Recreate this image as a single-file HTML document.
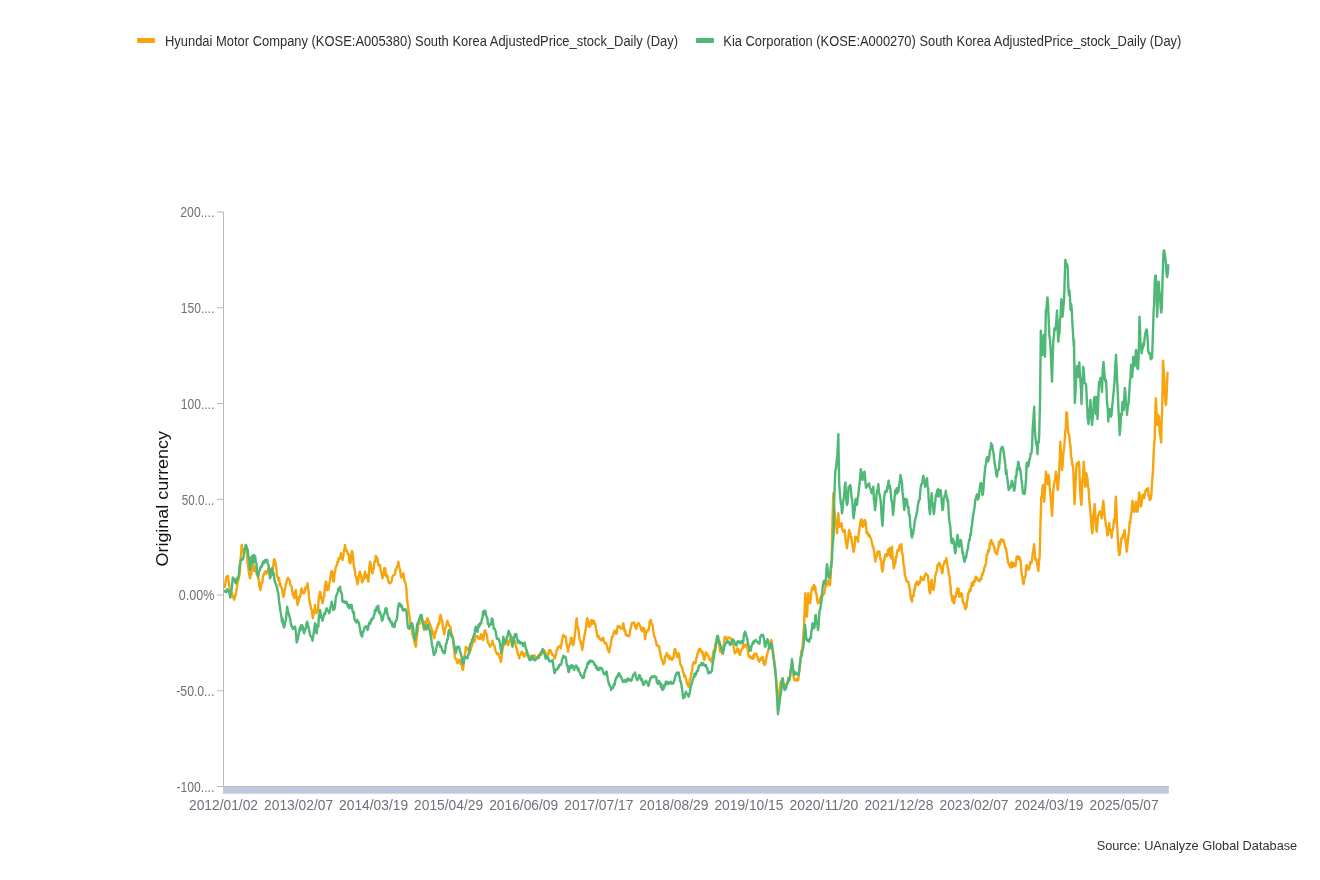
<!DOCTYPE html>
<html lang="en"><head><meta charset="utf-8"><title>Hyundai Motor vs Kia – Adjusted Price</title>
<style>
html,body{margin:0;padding:0;background:#fff;}
body{width:1320px;height:880px;overflow:hidden;font-family:"Liberation Sans",sans-serif;}
svg{display:block;}
text{font-family:"Liberation Sans",sans-serif;}
.lab{font-size:15.5px;fill:#6e7079;}
.leg{font-size:15.5px;fill:#2e2e2e;}
</style></head><body>
<svg width="1320" height="880" viewBox="0 0 1320 880">
<rect width="1320" height="880" fill="#fff"/>

<rect x="137" y="38" width="18" height="5" rx="1" fill="#f7a50e"/>
<text class="leg" x="165" y="45.5" textLength="513" lengthAdjust="spacingAndGlyphs">Hyundai Motor Company (KOSE:A005380) South Korea AdjustedPrice_stock_Daily (Day)</text>
<rect x="696" y="38" width="18" height="5" rx="1" fill="#4fb877"/>
<text class="leg" x="723.3" y="45.5" textLength="458" lengthAdjust="spacingAndGlyphs">Kia Corporation (KOSE:A000270) South Korea AdjustedPrice_stock_Daily (Day)</text>
<text transform="translate(167.5,566.5) rotate(-90)" font-size="16" fill="#111" textLength="135.5" lengthAdjust="spacingAndGlyphs">Original currency</text>
<rect x="223" y="211.5" width="1" height="575" fill="#b6b8c2"/>
<rect x="217" y="211.50" width="6" height="1" fill="#b6b8c2"/>
<text class="lab" x="214.3" y="217.3" text-anchor="end" textLength="34" lengthAdjust="spacingAndGlyphs">200....</text>
<rect x="217" y="307.25" width="6" height="1" fill="#b6b8c2"/>
<text class="lab" x="214.3" y="313.1" text-anchor="end" textLength="33.5" lengthAdjust="spacingAndGlyphs">150....</text>
<rect x="217" y="403.00" width="6" height="1" fill="#b6b8c2"/>
<text class="lab" x="214.3" y="408.8" text-anchor="end" textLength="33.5" lengthAdjust="spacingAndGlyphs">100....</text>
<rect x="217" y="498.75" width="6" height="1" fill="#b6b8c2"/>
<text class="lab" x="214.3" y="504.6" text-anchor="end" textLength="32.5" lengthAdjust="spacingAndGlyphs">50.0...</text>
<rect x="217" y="594.50" width="6" height="1" fill="#b6b8c2"/>
<text class="lab" x="214.3" y="600.3" text-anchor="end" textLength="35.5" lengthAdjust="spacingAndGlyphs">0.00%</text>
<rect x="217" y="690.25" width="6" height="1" fill="#b6b8c2"/>
<text class="lab" x="214.3" y="696.0" text-anchor="end" textLength="38" lengthAdjust="spacingAndGlyphs">-50.0...</text>
<rect x="217" y="786.00" width="6" height="1" fill="#b6b8c2"/>
<text class="lab" x="214.3" y="791.8" text-anchor="end" textLength="37.8" lengthAdjust="spacingAndGlyphs">-100....</text>
<rect x="223" y="786" width="945.8" height="7.7" fill="#bfc8dc"/>
<rect x="223" y="786" width="945.8" height="1" fill="#b6b8c2"/>
<text class="lab" x="223.5" y="809.8" text-anchor="middle" textLength="69" lengthAdjust="spacingAndGlyphs">2012/01/02</text>
<text class="lab" x="298.6" y="809.8" text-anchor="middle" textLength="69" lengthAdjust="spacingAndGlyphs">2013/02/07</text>
<text class="lab" x="373.6" y="809.8" text-anchor="middle" textLength="69" lengthAdjust="spacingAndGlyphs">2014/03/19</text>
<text class="lab" x="448.6" y="809.8" text-anchor="middle" textLength="69" lengthAdjust="spacingAndGlyphs">2015/04/29</text>
<text class="lab" x="523.7" y="809.8" text-anchor="middle" textLength="69" lengthAdjust="spacingAndGlyphs">2016/06/09</text>
<text class="lab" x="598.8" y="809.8" text-anchor="middle" textLength="69" lengthAdjust="spacingAndGlyphs">2017/07/17</text>
<text class="lab" x="673.8" y="809.8" text-anchor="middle" textLength="69" lengthAdjust="spacingAndGlyphs">2018/08/29</text>
<text class="lab" x="748.9" y="809.8" text-anchor="middle" textLength="69" lengthAdjust="spacingAndGlyphs">2019/10/15</text>
<text class="lab" x="823.9" y="809.8" text-anchor="middle" textLength="69" lengthAdjust="spacingAndGlyphs">2020/11/20</text>
<text class="lab" x="898.9" y="809.8" text-anchor="middle" textLength="69" lengthAdjust="spacingAndGlyphs">2021/12/28</text>
<text class="lab" x="974.0" y="809.8" text-anchor="middle" textLength="69" lengthAdjust="spacingAndGlyphs">2023/02/07</text>
<text class="lab" x="1049.0" y="809.8" text-anchor="middle" textLength="69" lengthAdjust="spacingAndGlyphs">2024/03/19</text>
<text class="lab" x="1124.1" y="809.8" text-anchor="middle" textLength="69" lengthAdjust="spacingAndGlyphs">2025/05/07</text>
<path d="M224.17 586.7 L224.72 587.2 L225.28 583.7 L225.83 579.8 L226.39 577.0 L226.94 577.4 L227.50 575.8 L228.06 576.3 L228.61 581.6 L229.17 584.8 L229.72 588.6 L230.28 589.2 L230.83 593.3 L231.47 594.0 L232.11 592.6 L232.75 596.4 L233.39 597.4 L234.03 599.6 L234.67 598.3 L235.23 595.2 L235.80 594.8 L236.37 590.1 L236.93 587.9 L237.50 583.3 L238.12 580.3 L238.75 578.9 L239.38 574.9 L240.00 570.0 L240.56 559.4 L241.11 554.0 L241.67 545.0 L242.22 548.9 L242.78 550.2 L243.33 551.7 L243.96 550.2 L244.58 548.9 L245.21 548.1 L245.83 545.0 L246.39 549.3 L246.94 554.8 L247.50 561.7 L248.12 566.2 L248.75 571.5 L249.38 575.5 L250.00 578.3 L250.56 573.7 L251.11 575.4 L251.67 571.0 L252.22 570.9 L252.78 565.3 L253.33 565.0 L253.93 568.2 L254.52 571.1 L255.12 567.0 L255.71 567.5 L256.31 571.6 L256.90 574.6 L257.50 575.0 L258.10 578.6 L258.70 579.0 L259.30 584.9 L259.90 588.9 L260.50 590.0 L261.11 585.1 L261.72 582.5 L262.33 582.9 L262.94 575.5 L263.56 575.6 L264.17 573.3 L264.76 572.2 L265.36 571.3 L265.95 571.1 L266.55 573.7 L267.14 571.0 L267.74 571.2 L268.33 568.3 L268.96 569.5 L269.58 573.2 L270.21 569.5 L270.83 576.7 L271.47 574.0 L272.11 568.5 L272.75 569.0 L273.39 564.4 L274.03 559.2 L274.67 560.0 L275.23 561.5 L275.80 565.2 L276.37 569.4 L276.93 575.3 L277.50 576.7 L278.06 578.4 L278.61 580.8 L279.17 578.0 L279.72 585.3 L280.28 583.6 L280.83 586.7 L281.46 587.3 L282.08 589.4 L282.71 593.2 L283.33 596.7 L283.93 595.4 L284.52 590.6 L285.12 588.1 L285.71 583.7 L286.31 583.2 L286.90 580.1 L287.50 578.3 L288.10 577.8 L288.69 579.7 L289.29 580.0 L289.88 581.3 L290.48 585.4 L291.07 585.8 L291.67 586.7 L292.29 591.8 L292.92 595.2 L293.54 593.5 L294.17 598.3 L294.72 592.2 L295.28 592.1 L295.83 590.0 L296.39 595.2 L296.94 599.3 L297.50 605.0 L298.10 602.7 L298.69 600.3 L299.29 596.4 L299.88 597.4 L300.48 595.0 L301.07 590.6 L301.67 588.3 L302.29 590.8 L302.92 593.1 L303.54 593.0 L304.17 593.3 L304.72 591.5 L305.28 587.8 L305.83 587.0 L306.39 588.5 L306.94 586.6 L307.50 583.3 L308.12 587.4 L308.75 593.8 L309.38 601.1 L310.00 603.3 L310.57 605.7 L311.13 609.1 L311.70 609.6 L312.27 613.4 L312.83 618.3 L313.38 615.0 L313.92 613.4 L314.46 610.6 L315.00 605.0 L315.56 610.5 L316.11 610.0 L316.67 613.3 L317.22 610.2 L317.78 611.2 L318.33 604.0 L318.89 596.9 L319.44 595.4 L320.00 591.7 L320.62 593.2 L321.25 598.8 L321.88 599.6 L322.50 603.3 L323.06 601.1 L323.61 597.0 L324.17 596.6 L324.72 588.7 L325.28 584.2 L325.83 581.7 L326.46 582.7 L327.08 590.2 L327.71 588.4 L328.33 590.0 L328.93 586.1 L329.53 582.9 L330.13 579.5 L330.73 575.1 L331.33 571.7 L332.00 570.9 L332.67 576.5 L333.33 581.7 L333.93 581.3 L334.52 572.6 L335.12 571.8 L335.71 567.6 L336.31 565.7 L336.90 565.3 L337.50 561.7 L338.06 562.4 L338.61 558.1 L339.17 558.0 L339.72 558.8 L340.28 556.5 L340.83 553.3 L341.39 558.0 L341.94 556.1 L342.50 560.0 L343.12 557.0 L343.75 552.4 L344.38 549.3 L345.00 545.0 L345.62 550.9 L346.25 549.5 L346.88 550.6 L347.50 553.3 L348.12 554.3 L348.75 554.2 L349.38 561.9 L350.00 563.3 L350.62 562.7 L351.25 555.9 L351.88 551.0 L352.50 552.5 L353.12 557.5 L353.75 565.7 L354.38 568.3 L355.00 571.7 L355.62 576.0 L356.25 577.3 L356.88 581.1 L357.50 584.2 L358.12 581.6 L358.75 576.3 L359.38 573.8 L360.00 571.7 L360.62 576.0 L361.25 574.8 L361.88 582.3 L362.50 581.7 L363.12 580.6 L363.75 578.9 L364.38 574.9 L365.00 571.7 L365.56 576.2 L366.11 577.5 L366.67 578.0 L367.22 574.7 L367.78 578.5 L368.33 581.7 L368.89 575.7 L369.44 566.4 L370.00 561.7 L370.62 563.8 L371.25 568.9 L371.88 571.3 L372.50 573.3 L373.06 569.4 L373.61 569.4 L374.17 563.8 L374.72 560.9 L375.28 561.5 L375.83 555.8 L376.43 557.0 L377.02 558.0 L377.62 558.8 L378.21 564.4 L378.81 565.6 L379.40 565.1 L380.00 565.0 L380.62 570.4 L381.25 571.9 L381.88 575.8 L382.50 578.3 L383.06 575.3 L383.61 575.2 L384.17 568.3 L384.75 572.0 L385.33 568.5 L385.92 576.0 L386.50 576.4 L387.08 575.2 L387.67 577.2 L388.25 581.0 L388.83 582.5 L389.42 583.2 L390.00 583.3 L390.62 582.2 L391.25 582.3 L391.88 579.7 L392.50 576.4 L393.12 575.5 L393.75 575.4 L394.38 575.0 L395.00 573.3 L395.56 569.8 L396.11 570.1 L396.67 567.4 L397.22 566.2 L397.78 565.8 L398.33 561.7 L398.96 565.5 L399.58 568.0 L400.21 570.3 L400.83 576.7 L401.46 577.5 L402.08 574.8 L402.71 575.4 L403.33 573.3 L403.96 577.2 L404.58 581.6 L405.21 582.2 L405.83 585.0 L406.39 588.6 L406.94 598.6 L407.50 603.3 L408.12 606.9 L408.75 613.1 L409.38 614.8 L410.00 620.0 L410.62 625.1 L411.25 626.8 L411.88 630.3 L412.50 635.0 L413.06 635.7 L413.61 637.6 L414.17 640.7 L414.72 643.1 L415.28 644.8 L415.83 646.7 L416.46 640.4 L417.08 634.7 L417.71 630.9 L418.33 623.3 L418.89 621.8 L419.44 623.9 L420.00 616.9 L420.56 618.6 L421.11 618.6 L421.67 616.7 L422.29 620.4 L422.92 622.7 L423.54 627.4 L424.17 630.0 L424.72 628.6 L425.28 621.4 L425.83 624.1 L426.39 620.9 L426.94 621.3 L427.50 618.3 L428.06 620.8 L428.61 620.6 L429.17 623.2 L429.72 623.4 L430.28 625.5 L430.83 626.7 L431.39 627.5 L431.94 633.6 L432.50 634.2 L433.06 631.4 L433.61 637.1 L434.17 638.3 L434.72 635.9 L435.28 633.4 L435.83 631.5 L436.39 630.8 L436.94 628.2 L437.50 626.7 L438.06 624.4 L438.61 623.3 L439.17 624.0 L439.72 618.6 L440.28 615.4 L440.83 615.0 L441.39 618.9 L441.94 620.0 L442.50 623.1 L443.06 628.5 L443.61 631.0 L444.17 634.2 L444.72 631.2 L445.28 628.2 L445.83 626.7 L446.39 624.9 L446.94 622.6 L447.50 620.8 L448.12 623.2 L448.75 624.9 L449.38 626.1 L450.00 626.7 L450.62 627.4 L451.25 632.7 L451.88 634.3 L452.50 636.7 L453.12 640.6 L453.75 646.9 L454.38 652.0 L455.00 658.3 L455.62 658.6 L456.25 658.6 L456.88 661.9 L457.50 663.3 L458.12 661.9 L458.75 661.7 L459.38 659.6 L460.00 660.0 L460.60 664.1 L461.20 662.7 L461.80 665.5 L462.40 669.4 L463.00 670.0 L463.57 665.5 L464.13 657.8 L464.70 655.3 L465.27 652.3 L465.83 646.7 L466.39 648.7 L466.94 648.2 L467.50 648.9 L468.06 648.3 L468.61 650.8 L469.17 653.3 L469.72 651.7 L470.28 648.0 L470.83 650.0 L471.39 644.4 L471.94 646.2 L472.50 643.3 L473.06 642.6 L473.61 642.2 L474.17 640.6 L474.72 641.0 L475.28 638.0 L475.83 636.7 L476.46 636.2 L477.08 635.8 L477.71 636.6 L478.33 638.3 L478.96 638.6 L479.58 638.7 L480.21 638.9 L480.83 634.2 L481.38 636.6 L481.92 635.1 L482.46 638.0 L483.00 640.0 L483.56 638.3 L484.11 633.9 L484.67 630.8 L485.23 630.4 L485.80 632.7 L486.37 633.9 L486.93 635.2 L487.50 640.0 L488.12 643.0 L488.75 643.3 L489.38 645.5 L490.00 646.7 L490.62 645.6 L491.25 645.0 L491.88 644.5 L492.50 640.8 L493.06 643.5 L493.61 644.4 L494.17 645.0 L494.72 647.0 L495.28 650.4 L495.83 651.7 L496.46 652.2 L497.08 654.2 L497.71 653.8 L498.33 653.3 L498.96 655.2 L499.58 657.6 L500.21 658.4 L500.83 661.7 L501.46 657.7 L502.08 652.5 L502.71 648.7 L503.33 645.0 L503.96 643.7 L504.58 644.6 L505.21 641.5 L505.83 640.0 L506.46 642.2 L507.08 639.9 L507.71 645.1 L508.33 645.0 L508.89 641.4 L509.44 641.9 L510.00 641.0 L510.56 637.4 L511.11 637.1 L511.67 636.7 L512.29 639.9 L512.92 641.4 L513.54 642.2 L514.17 641.7 L514.79 640.9 L515.42 643.3 L516.04 646.7 L516.67 648.3 L517.29 651.3 L517.92 654.7 L518.54 655.0 L519.17 658.3 L519.79 655.4 L520.42 654.8 L521.04 653.3 L521.67 651.7 L522.29 651.6 L522.92 654.5 L523.54 655.0 L524.17 656.7 L524.79 656.4 L525.42 653.0 L526.04 652.7 L526.67 653.3 L527.22 653.6 L527.78 655.6 L528.33 657.1 L528.89 656.9 L529.44 655.8 L530.00 658.3 L530.56 658.4 L531.11 656.4 L531.67 658.8 L532.22 657.3 L532.78 657.5 L533.33 656.7 L533.89 656.7 L534.44 655.1 L535.00 656.6 L535.56 658.5 L536.11 657.2 L536.67 658.3 L537.22 657.6 L537.78 657.3 L538.33 655.5 L538.89 656.9 L539.44 654.4 L540.00 655.0 L540.56 652.8 L541.11 651.9 L541.67 654.3 L542.22 650.5 L542.78 649.4 L543.33 650.0 L543.89 650.1 L544.44 650.4 L545.00 652.0 L545.56 653.2 L546.11 654.4 L546.67 656.7 L547.22 657.0 L547.78 653.8 L548.33 654.7 L548.89 650.4 L549.44 651.5 L550.00 650.0 L550.62 650.4 L551.25 653.3 L551.88 653.2 L552.50 655.0 L553.12 654.8 L553.75 656.3 L554.38 658.1 L555.00 658.3 L555.56 655.9 L556.11 654.4 L556.67 650.0 L557.22 650.0 L557.78 647.7 L558.33 646.7 L558.96 647.0 L559.58 647.2 L560.21 645.7 L560.83 648.3 L561.46 644.4 L562.08 640.1 L562.71 637.4 L563.33 635.0 L563.96 635.4 L564.58 636.9 L565.21 637.1 L565.83 636.7 L566.38 642.6 L566.92 645.9 L567.46 646.9 L568.00 651.7 L568.57 647.1 L569.13 645.8 L569.70 644.7 L570.27 642.7 L570.83 638.3 L571.46 637.8 L572.08 641.0 L572.71 645.1 L573.33 645.0 L573.89 642.1 L574.44 637.8 L575.00 634.5 L575.56 628.7 L576.11 622.1 L576.67 618.3 L577.29 626.8 L577.92 627.3 L578.54 629.4 L579.17 636.7 L579.77 640.2 L580.37 641.2 L580.97 643.6 L581.57 645.4 L582.17 650.0 L582.73 646.9 L583.30 642.4 L583.87 639.2 L584.43 636.0 L585.00 633.3 L585.54 629.5 L586.08 628.2 L586.62 621.1 L587.17 618.3 L587.83 620.1 L588.50 622.8 L589.17 626.7 L589.79 626.5 L590.42 625.7 L591.04 620.4 L591.67 620.0 L592.22 620.9 L592.78 623.8 L593.33 621.8 L593.89 620.8 L594.44 623.6 L595.00 623.3 L595.62 626.2 L596.25 629.9 L596.88 633.5 L597.50 636.7 L598.06 635.9 L598.61 636.0 L599.17 638.1 L599.72 639.3 L600.28 638.9 L600.83 640.0 L601.46 640.6 L602.08 638.9 L602.71 637.7 L603.33 638.3 L603.89 641.0 L604.44 642.5 L605.00 643.3 L605.56 643.9 L606.11 642.9 L606.67 645.0 L607.29 647.3 L607.92 649.8 L608.54 651.4 L609.17 652.5 L609.72 649.1 L610.28 646.6 L610.83 644.2 L611.39 640.5 L611.94 637.1 L612.50 636.7 L613.06 635.1 L613.61 633.3 L614.17 631.7 L614.79 630.6 L615.42 631.4 L616.04 633.8 L616.67 633.3 L617.22 628.9 L617.78 626.1 L618.33 626.7 L618.89 627.2 L619.44 626.3 L620.00 627.6 L620.56 627.6 L621.11 628.9 L621.67 628.3 L622.22 628.5 L622.78 625.9 L623.33 623.3 L623.96 627.6 L624.58 631.4 L625.21 629.8 L625.83 635.0 L626.39 635.2 L626.94 635.6 L627.50 635.1 L628.06 635.4 L628.61 636.2 L629.17 635.8 L629.72 633.9 L630.28 629.9 L630.83 627.2 L631.39 625.9 L631.94 623.0 L632.50 623.3 L633.06 623.0 L633.61 622.5 L634.17 622.6 L634.72 625.3 L635.28 626.6 L635.83 628.3 L636.46 628.8 L637.08 624.8 L637.71 623.7 L638.33 623.3 L638.89 623.3 L639.44 624.7 L640.00 626.5 L640.56 626.7 L641.11 629.8 L641.67 630.0 L642.29 631.2 L642.92 627.8 L643.54 629.5 L644.17 628.3 L645.00 639.2 L645.62 636.1 L646.25 631.7 L646.88 631.9 L647.50 630.0 L648.06 630.4 L648.61 630.2 L649.17 627.6 L649.72 621.1 L650.28 621.9 L650.83 620.0 L651.46 623.6 L652.08 624.2 L652.71 625.7 L653.33 631.7 L653.89 635.6 L654.44 637.0 L655.00 637.7 L655.56 640.7 L656.11 641.4 L656.67 645.0 L657.29 645.8 L657.92 645.7 L658.54 645.7 L659.17 646.7 L659.72 650.2 L660.28 652.8 L660.83 656.7 L661.46 659.0 L662.08 660.4 L662.71 661.3 L663.33 664.2 L663.89 663.8 L664.44 661.8 L665.00 656.3 L665.56 656.1 L666.11 656.1 L666.67 653.3 L667.22 655.7 L667.78 654.9 L668.33 657.4 L668.89 658.1 L669.44 655.8 L670.00 659.2 L670.56 658.7 L671.11 658.0 L671.67 657.7 L672.22 659.9 L672.78 658.6 L673.33 658.3 L674.00 653.5 L674.67 648.9 L675.33 649.2 L675.89 652.1 L676.44 653.2 L677.00 656.7 L677.56 656.8 L678.11 654.0 L678.67 653.3 L679.21 655.3 L679.75 660.5 L680.29 664.4 L680.83 665.0 L681.40 666.3 L681.97 667.3 L682.53 669.5 L683.10 672.5 L683.67 673.3 L684.33 676.5 L685.00 675.3 L685.67 678.2 L686.33 680.0 L686.92 683.9 L687.50 683.2 L688.08 685.9 L688.67 686.7 L689.21 685.9 L689.75 679.1 L690.29 679.2 L690.83 676.7 L691.46 672.4 L692.08 671.1 L692.71 664.4 L693.33 663.3 L693.96 662.1 L694.58 663.5 L695.21 663.3 L695.83 661.7 L696.39 657.7 L696.94 657.6 L697.50 653.2 L698.06 653.0 L698.61 650.2 L699.17 649.2 L699.72 649.2 L700.28 648.7 L700.83 651.2 L701.39 652.3 L701.94 651.3 L702.50 651.7 L703.06 655.2 L703.61 656.6 L704.17 660.0 L704.71 658.5 L705.25 655.8 L705.79 652.6 L706.33 652.5 L706.90 654.3 L707.47 655.2 L708.03 655.0 L708.60 656.8 L709.17 658.3 L709.71 659.9 L710.25 659.0 L710.79 659.6 L711.33 661.7 L712.00 658.6 L712.67 656.3 L713.33 651.7 L713.96 650.2 L714.58 649.6 L715.21 645.8 L715.83 641.7 L716.50 641.5 L717.17 636.5 L717.83 636.7 L718.38 643.1 L718.92 642.1 L719.46 646.2 L720.00 651.7 L720.62 651.6 L721.25 652.0 L721.88 652.0 L722.50 654.2 L723.12 649.3 L723.75 644.9 L724.38 638.5 L725.00 636.7 L725.62 637.2 L726.25 638.3 L726.88 639.2 L727.50 638.3 L728.12 637.5 L728.75 637.4 L729.38 638.2 L730.00 638.3 L730.62 637.9 L731.25 639.4 L731.88 640.6 L732.50 641.7 L733.12 643.5 L733.75 647.8 L734.38 651.5 L735.00 653.3 L735.62 652.0 L736.25 651.7 L736.88 650.4 L737.50 648.3 L738.12 648.9 L738.75 653.3 L739.38 653.3 L740.00 655.0 L740.62 652.4 L741.25 649.7 L741.88 649.5 L742.50 648.3 L743.07 645.2 L743.63 644.7 L744.20 647.2 L744.77 645.4 L745.33 645.0 L745.88 644.5 L746.42 646.3 L746.96 644.4 L747.50 648.3 L748.06 651.9 L748.61 655.8 L749.17 656.7 L749.79 657.4 L750.42 656.3 L751.04 657.3 L751.67 658.3 L752.22 658.7 L752.78 658.8 L753.33 655.2 L753.89 658.0 L754.44 653.8 L755.00 654.2 L755.62 653.9 L756.25 653.4 L756.88 656.2 L757.50 656.7 L758.06 659.8 L758.61 659.0 L759.17 661.7 L759.72 660.3 L760.28 660.1 L760.83 658.3 L761.39 659.4 L761.94 658.2 L762.50 656.7 L763.04 658.6 L763.58 663.6 L764.12 662.4 L764.67 665.0 L765.33 663.2 L766.00 659.6 L766.67 656.7 L767.29 654.1 L767.92 651.8 L768.54 649.1 L769.17 648.3 L769.71 644.8 L770.25 643.5 L770.79 640.5 L771.33 640.0 L772.00 644.3 L772.67 649.5 L773.33 653.3 L774.00 660.0 L774.67 664.4 L775.33 670.0 L776.00 678.6 L776.67 686.7 L777.33 698.3 L778.00 710.0 L778.58 701.8 L779.17 691.7 L779.72 689.1 L780.28 683.9 L780.83 681.7 L781.39 680.8 L781.94 680.0 L782.50 678.3 L783.04 682.8 L783.58 684.3 L784.12 685.9 L784.67 688.3 L785.33 686.0 L786.00 684.6 L786.67 683.3 L787.22 682.1 L787.78 682.1 L788.33 677.8 L788.89 678.9 L789.44 678.8 L790.00 676.7 L790.67 671.7 L791.33 667.2 L792.00 663.3 L792.54 668.4 L793.08 671.4 L793.62 677.1 L794.17 680.0 L794.76 679.8 L795.36 680.3 L795.95 679.6 L796.55 679.0 L797.14 680.7 L797.74 680.4 L798.33 680.0 L798.96 672.4 L799.58 669.4 L800.21 663.6 L800.83 656.7 L801.39 650.8 L801.94 650.8 L802.50 648.3 L803.06 639.5 L803.61 631.7 L804.17 623.3 L804.75 607.8 L805.33 593.3 L806.00 607.8 L806.67 616.7 L807.22 613.2 L807.78 599.5 L808.33 593.3 L808.89 599.0 L809.44 597.4 L810.00 603.3 L810.67 599.2 L811.33 592.3 L812.00 588.3 L812.54 589.3 L813.08 586.2 L813.62 586.3 L814.17 585.0 L814.72 590.3 L815.28 586.8 L815.83 593.3 L816.38 593.1 L816.92 597.3 L817.46 601.7 L818.00 603.3 L818.67 601.4 L819.33 602.8 L820.00 598.3 L820.62 598.7 L821.25 595.4 L821.88 597.1 L822.50 595.0 L823.12 595.1 L823.75 593.7 L824.38 593.5 L825.00 588.3 L825.62 584.6 L826.25 586.3 L826.88 584.1 L827.50 581.7 L828.12 580.7 L828.75 584.6 L829.38 581.1 L830.00 585.0 L830.56 578.1 L831.11 567.0 L831.67 558.3 L832.50 520.0 L833.33 493.3 L834.00 506.5 L834.67 513.3 L835.25 517.7 L835.83 523.3 L836.42 527.1 L837.00 533.3 L837.67 524.1 L838.33 513.3 L839.00 522.5 L839.67 526.7 L840.33 525.9 L841.00 524.5 L841.67 523.3 L842.22 529.2 L842.78 530.9 L843.33 531.7 L844.00 530.9 L844.67 530.1 L845.33 536.7 L845.89 542.9 L846.44 544.3 L847.00 548.3 L847.54 543.2 L848.08 540.2 L848.62 534.7 L849.17 530.0 L849.71 532.0 L850.25 532.7 L850.79 537.5 L851.33 536.7 L851.92 542.1 L852.50 545.7 L853.08 548.0 L853.67 551.7 L854.21 549.1 L854.75 544.6 L855.29 536.6 L855.83 536.7 L856.38 537.3 L856.92 537.7 L857.46 539.5 L858.00 541.7 L858.56 534.3 L859.11 531.1 L859.67 526.7 L860.25 522.9 L860.83 520.0 L861.50 519.2 L862.17 525.9 L862.83 526.7 L863.44 525.8 L864.06 520.6 L864.67 520.0 L865.33 521.0 L866.00 525.3 L866.67 533.3 L867.29 532.3 L867.92 533.2 L868.54 536.0 L869.17 535.0 L869.79 535.8 L870.42 537.9 L871.04 538.7 L871.67 541.7 L872.22 543.8 L872.78 547.4 L873.33 546.7 L874.00 551.0 L874.67 556.2 L875.33 561.7 L875.88 557.6 L876.42 556.8 L876.96 555.7 L877.50 551.7 L878.12 551.7 L878.75 551.6 L879.38 551.5 L880.00 556.7 L880.62 559.7 L881.25 560.7 L881.88 569.1 L882.50 571.7 L883.12 567.1 L883.75 562.1 L884.38 559.9 L885.00 555.0 L885.62 555.7 L886.25 554.3 L886.88 556.1 L887.50 555.0 L888.17 549.8 L888.83 554.2 L889.50 548.3 L890.06 555.9 L890.61 553.8 L891.17 558.3 L892.00 546.7 L892.56 556.3 L893.11 561.1 L893.67 568.3 L894.21 566.6 L894.75 559.8 L895.29 564.0 L895.83 556.7 L896.46 557.4 L897.08 552.2 L897.71 549.7 L898.33 550.0 L899.00 550.5 L899.67 545.3 L900.33 545.0 L900.88 544.5 L901.42 544.2 L901.96 552.7 L902.50 553.3 L903.06 559.1 L903.61 564.8 L904.17 566.7 L904.83 574.5 L905.50 576.8 L906.17 580.0 L906.71 580.5 L907.25 581.7 L907.79 582.0 L908.33 581.7 L909.00 585.2 L909.67 588.6 L910.33 593.3 L910.89 599.3 L911.44 597.9 L912.00 601.7 L912.54 596.0 L913.08 595.4 L913.62 595.9 L914.17 590.0 L914.72 590.5 L915.28 585.2 L915.83 583.3 L916.46 584.5 L917.08 581.7 L917.71 582.7 L918.33 585.0 L918.96 581.9 L919.58 583.2 L920.21 582.1 L920.83 576.7 L921.46 579.4 L922.08 579.4 L922.71 578.2 L923.33 580.0 L923.89 579.8 L924.44 576.2 L925.00 575.8 L925.56 573.4 L926.11 574.3 L926.67 574.2 L927.33 575.1 L928.00 576.1 L928.67 583.3 L929.33 591.0 L930.00 593.3 L930.56 588.8 L931.11 583.1 L931.67 580.0 L932.22 586.8 L932.78 587.8 L933.33 590.0 L934.00 587.2 L934.67 581.8 L935.33 575.0 L935.88 574.3 L936.42 571.5 L936.96 570.4 L937.50 565.0 L938.12 565.2 L938.75 563.1 L939.38 563.0 L940.00 564.2 L940.67 567.7 L941.33 567.0 L942.00 573.3 L942.54 572.7 L943.08 565.9 L943.62 564.9 L944.17 563.3 L944.71 560.9 L945.25 561.9 L945.79 561.2 L946.33 558.3 L947.00 562.6 L947.67 567.4 L948.33 570.0 L948.89 574.9 L949.44 575.9 L950.00 583.3 L950.56 586.2 L951.11 594.9 L951.67 596.7 L952.29 600.8 L952.92 596.3 L953.54 602.8 L954.17 603.3 L954.72 599.1 L955.28 596.3 L955.83 596.7 L956.39 592.9 L956.94 590.8 L957.50 588.3 L958.06 593.0 L958.61 588.9 L959.17 596.7 L959.72 594.2 L960.28 593.5 L960.83 593.3 L961.46 596.6 L962.08 594.0 L962.71 601.3 L963.33 603.3 L964.00 603.3 L964.67 605.8 L965.33 609.2 L965.88 607.7 L966.42 607.5 L966.96 601.6 L967.50 600.0 L968.06 594.3 L968.61 592.6 L969.17 591.7 L969.79 589.3 L970.42 591.0 L971.04 587.7 L971.67 583.3 L972.22 582.6 L972.78 585.7 L973.33 585.0 L973.96 581.2 L974.58 582.1 L975.21 578.7 L975.83 576.7 L976.46 578.5 L977.08 577.9 L977.71 580.4 L978.33 580.0 L978.96 580.5 L979.58 581.3 L980.21 578.9 L980.83 578.3 L981.39 579.1 L981.94 574.3 L982.50 575.0 L983.12 572.0 L983.75 571.3 L984.38 567.3 L985.00 566.7 L985.56 564.2 L986.11 563.0 L986.67 555.0 L987.33 554.9 L988.00 550.3 L988.67 551.7 L989.29 549.0 L989.92 542.6 L990.54 542.3 L991.17 540.0 L991.71 541.9 L992.25 544.1 L992.79 543.0 L993.33 545.0 L993.96 546.1 L994.58 549.3 L995.21 552.3 L995.83 553.3 L996.46 553.4 L997.08 554.3 L997.71 548.8 L998.33 548.3 L999.00 541.8 L999.67 545.3 L1000.33 541.7 L1000.88 539.7 L1001.42 539.4 L1001.96 541.1 L1002.50 540.0 L1003.33 540.0 L1004.00 542.8 L1004.67 544.8 L1005.33 548.3 L1005.89 548.3 L1006.44 551.2 L1007.00 555.0 L1007.56 559.3 L1008.11 562.8 L1008.67 563.3 L1009.21 565.2 L1009.75 564.2 L1010.29 567.4 L1010.83 567.5 L1011.46 562.3 L1012.08 562.5 L1012.71 566.8 L1013.33 563.3 L1013.89 566.2 L1014.44 563.4 L1015.00 565.0 L1015.56 565.7 L1016.11 562.2 L1016.67 556.7 L1017.29 558.4 L1017.92 556.4 L1018.54 559.0 L1019.17 557.5 L1019.72 557.5 L1020.28 561.1 L1020.83 563.3 L1021.38 571.4 L1021.92 575.3 L1022.46 577.3 L1023.00 583.3 L1023.67 584.0 L1024.33 578.6 L1025.00 576.7 L1025.56 575.8 L1026.11 568.3 L1026.67 565.0 L1027.29 566.2 L1027.92 569.0 L1028.54 569.5 L1029.17 568.3 L1029.72 566.2 L1030.28 562.2 L1030.83 563.3 L1031.39 563.3 L1031.94 560.6 L1032.50 555.0 L1033.06 551.9 L1033.61 548.0 L1034.17 544.2 L1034.75 553.3 L1035.33 560.0 L1035.89 559.3 L1036.44 559.2 L1037.00 563.3 L1037.67 566.7 L1038.33 570.8 L1039.00 561.8 L1039.67 556.7 L1040.50 523.3 L1041.33 496.7 L1041.89 497.2 L1042.44 488.6 L1043.00 485.0 L1043.58 494.1 L1044.17 501.7 L1044.72 495.3 L1045.28 484.7 L1045.83 471.7 L1046.39 475.2 L1046.94 479.6 L1047.50 483.3 L1048.08 484.2 L1048.67 475.0 L1049.22 478.8 L1049.78 487.9 L1050.33 493.3 L1050.89 500.4 L1051.44 507.6 L1052.00 515.8 L1052.67 503.9 L1053.33 490.0 L1053.96 485.0 L1054.58 482.0 L1055.21 479.1 L1055.83 471.7 L1056.38 475.8 L1056.92 477.0 L1057.46 488.8 L1058.00 490.0 L1058.58 480.3 L1059.17 470.0 L1059.75 459.4 L1060.33 441.7 L1060.89 451.8 L1061.44 461.4 L1062.00 470.0 L1062.67 464.0 L1063.33 453.3 L1064.00 449.5 L1064.67 440.4 L1065.33 431.7 L1065.89 426.1 L1066.44 412.1 L1067.00 413.3 L1067.67 425.9 L1068.33 433.3 L1068.89 433.9 L1069.44 437.1 L1070.00 443.3 L1070.56 446.8 L1071.11 456.6 L1071.67 458.3 L1072.22 464.9 L1072.78 464.7 L1073.33 470.0 L1073.92 488.2 L1074.50 504.2 L1075.17 491.8 L1075.83 476.7 L1076.42 466.2 L1077.00 463.3 L1077.56 465.6 L1078.11 464.1 L1078.67 461.7 L1079.33 466.0 L1080.00 490.0 L1080.67 499.0 L1081.33 505.0 L1081.92 493.9 L1082.50 478.3 L1083.08 476.8 L1083.67 461.7 L1084.22 468.8 L1084.78 480.5 L1085.33 486.7 L1085.83 478.2 L1086.33 473.3 L1086.89 475.7 L1087.44 478.3 L1088.00 486.7 L1088.58 488.7 L1089.17 498.3 L1089.72 504.6 L1090.28 510.4 L1090.83 516.7 L1091.50 527.1 L1092.17 533.3 L1092.75 529.7 L1093.33 515.0 L1094.00 510.8 L1094.67 504.2 L1095.33 516.0 L1096.00 526.5 L1096.67 531.7 L1097.22 527.1 L1097.78 517.9 L1098.33 515.0 L1099.00 514.5 L1099.67 511.2 L1100.33 512.5 L1101.00 514.1 L1101.67 518.3 L1102.22 510.3 L1102.78 505.3 L1103.33 500.8 L1103.89 505.8 L1104.44 515.3 L1105.00 518.3 L1105.56 522.4 L1106.11 526.1 L1106.67 528.3 L1107.33 535.5 L1108.00 535.0 L1108.58 530.9 L1109.17 523.3 L1109.79 529.3 L1110.42 530.7 L1111.04 532.2 L1111.67 537.5 L1112.22 529.8 L1112.78 530.1 L1113.33 526.7 L1113.89 519.8 L1114.44 522.7 L1115.00 513.3 L1115.83 496.7 L1116.42 507.5 L1117.00 523.3 L1117.67 535.1 L1118.33 546.7 L1119.17 555.0 L1119.72 554.4 L1120.28 548.2 L1120.83 543.3 L1121.39 538.7 L1121.94 537.7 L1122.50 538.3 L1123.04 534.9 L1123.58 535.5 L1124.12 532.0 L1124.67 530.0 L1125.33 538.2 L1126.00 543.6 L1126.67 551.7 L1127.22 546.4 L1127.78 543.2 L1128.33 536.7 L1129.00 532.3 L1129.67 521.7 L1130.22 522.9 L1130.78 516.6 L1131.33 513.3 L1131.92 507.2 L1132.50 500.8 L1133.06 505.1 L1133.61 508.1 L1134.17 511.7 L1134.72 511.6 L1135.28 510.0 L1135.83 501.7 L1136.39 509.4 L1136.94 511.4 L1137.50 511.7 L1138.06 506.5 L1138.61 499.6 L1139.17 492.5 L1139.72 495.0 L1140.28 501.8 L1140.83 506.7 L1141.39 504.8 L1141.94 499.8 L1142.50 495.0 L1143.06 495.5 L1143.61 495.0 L1144.17 498.3 L1144.72 494.7 L1145.28 492.1 L1145.83 490.0 L1146.39 490.7 L1146.94 489.3 L1147.50 488.3 L1148.04 488.4 L1148.58 496.5 L1149.12 496.6 L1149.67 500.0 L1150.22 495.8 L1150.78 498.8 L1151.33 495.0 L1151.92 484.6 L1152.50 476.7 L1153.08 469.6 L1153.67 453.3 L1154.17 442.9 L1154.67 440.0 L1155.25 415.0 L1155.83 398.3 L1156.50 409.7 L1157.17 425.0 L1157.75 421.6 L1158.33 415.0 L1159.00 417.7 L1159.67 433.3 L1160.42 436.2 L1161.17 442.5 L1161.67 421.1 L1162.17 411.7 L1163.00 360.8 L1163.67 370.0 L1164.17 377.9 L1164.67 390.0 L1165.33 401.8 L1166.00 405.0 L1166.50 397.2 L1167.00 385.0 L1167.50 372.9 L1168.00 371.7" fill="none" stroke="#f7a50e" stroke-width="2.4" stroke-linejoin="round"/>
<path d="M224.17 591.7 L224.72 590.9 L225.28 591.8 L225.83 591.2 L226.39 592.2 L226.94 589.1 L227.50 590.0 L228.07 590.2 L228.63 590.6 L229.20 592.5 L229.77 595.0 L230.33 597.5 L230.93 592.2 L231.53 590.4 L232.13 585.0 L232.73 577.5 L233.33 578.3 L233.96 579.1 L234.58 579.2 L235.21 582.3 L235.83 583.3 L236.46 581.8 L237.08 578.2 L237.71 578.5 L238.33 576.7 L238.96 574.7 L239.58 566.0 L240.21 563.5 L240.83 560.0 L241.46 560.0 L242.08 558.7 L242.71 559.6 L243.33 558.3 L243.96 553.5 L244.58 550.7 L245.21 547.1 L245.83 545.0 L246.46 546.1 L247.08 550.0 L247.71 549.4 L248.33 556.7 L248.89 557.1 L249.44 561.2 L250.00 570.0 L250.56 567.4 L251.11 561.1 L251.67 556.7 L252.22 555.8 L252.78 557.9 L253.33 563.3 L253.92 555.0 L254.50 555.8 L255.14 556.2 L255.78 562.1 L256.42 563.4 L257.06 572.8 L257.69 574.9 L258.33 576.7 L258.93 571.7 L259.52 570.4 L260.12 570.1 L260.71 566.4 L261.31 567.1 L261.90 566.5 L262.50 563.3 L263.06 561.8 L263.61 563.5 L264.17 560.9 L264.72 562.6 L265.28 560.0 L265.83 560.0 L266.46 560.9 L267.08 559.7 L267.71 563.3 L268.33 565.0 L268.89 566.9 L269.44 573.0 L270.00 578.3 L270.67 570.3 L271.33 570.6 L272.00 568.3 L272.60 570.4 L273.20 575.0 L273.80 573.4 L274.40 579.6 L275.00 581.7 L275.56 583.5 L276.11 584.8 L276.67 586.5 L277.22 588.0 L277.78 591.7 L278.33 593.3 L278.96 600.4 L279.58 605.1 L280.21 609.3 L280.83 613.3 L281.39 616.3 L281.94 621.7 L282.50 618.5 L283.06 623.8 L283.61 626.4 L284.17 627.5 L284.77 624.3 L285.37 621.7 L285.97 619.3 L286.57 613.1 L287.17 606.7 L287.73 609.8 L288.30 612.9 L288.87 614.1 L289.43 616.4 L290.00 618.3 L290.62 621.6 L291.25 625.9 L291.88 625.8 L292.50 628.3 L293.12 628.8 L293.75 627.6 L294.38 628.4 L295.00 626.7 L295.56 630.0 L296.11 635.2 L296.67 642.5 L297.29 640.7 L297.92 639.0 L298.54 634.9 L299.17 631.7 L299.79 627.7 L300.42 630.3 L301.04 625.5 L301.67 625.0 L302.29 625.6 L302.92 627.7 L303.54 631.2 L304.17 633.3 L304.73 630.0 L305.30 629.9 L305.87 627.6 L306.43 624.6 L307.00 621.7 L307.60 623.1 L308.20 625.9 L308.80 628.6 L309.40 632.1 L310.00 635.0 L310.62 636.3 L311.25 636.6 L311.88 638.3 L312.50 640.8 L313.12 636.9 L313.75 632.5 L314.38 628.1 L315.00 623.3 L315.56 627.0 L316.11 632.0 L316.67 633.3 L317.22 626.2 L317.78 624.6 L318.33 626.7 L318.89 616.3 L319.44 613.9 L320.00 610.0 L320.62 612.9 L321.25 617.9 L321.88 616.5 L322.50 620.8 L323.10 618.6 L323.69 616.0 L324.29 613.3 L324.88 614.4 L325.48 612.4 L326.07 610.2 L326.67 608.3 L327.29 609.9 L327.92 610.7 L328.54 610.9 L329.17 613.3 L329.79 611.1 L330.42 607.8 L331.04 605.7 L331.67 601.7 L332.22 603.9 L332.78 606.2 L333.33 610.0 L333.89 608.4 L334.44 609.1 L335.00 606.1 L335.56 599.8 L336.11 595.9 L336.67 595.0 L337.22 593.3 L337.78 591.8 L338.33 588.6 L338.89 590.3 L339.44 588.4 L340.00 586.7 L340.62 591.1 L341.25 592.5 L341.88 594.0 L342.50 601.7 L343.10 601.0 L343.69 601.0 L344.29 602.6 L344.88 601.7 L345.48 602.9 L346.07 602.2 L346.67 601.7 L347.29 604.3 L347.92 606.7 L348.54 604.9 L349.17 608.3 L349.79 607.9 L350.42 604.9 L351.04 606.6 L351.67 605.0 L352.22 609.3 L352.78 611.7 L353.33 613.4 L353.89 612.2 L354.44 619.3 L355.00 620.0 L355.56 621.6 L356.11 621.6 L356.67 622.5 L357.22 620.0 L357.78 622.1 L358.33 621.7 L358.97 622.9 L359.61 627.0 L360.25 629.8 L360.89 634.6 L361.53 635.6 L362.17 636.7 L362.73 631.9 L363.30 632.0 L363.87 630.2 L364.43 627.4 L365.00 626.7 L365.62 626.9 L366.25 626.3 L366.88 627.9 L367.50 630.0 L368.06 628.8 L368.61 625.5 L369.17 622.9 L369.72 622.7 L370.28 623.8 L370.83 620.0 L371.46 621.0 L372.08 618.2 L372.71 618.3 L373.33 618.3 L373.89 615.5 L374.44 614.4 L375.00 610.0 L375.56 611.4 L376.11 610.2 L376.67 606.7 L377.22 607.7 L377.78 607.6 L378.33 605.8 L378.89 612.9 L379.44 612.1 L380.00 611.7 L380.62 614.6 L381.25 616.3 L381.88 620.8 L382.50 620.0 L383.06 617.4 L383.61 615.2 L384.17 613.7 L384.72 613.4 L385.28 609.4 L385.83 608.3 L386.43 608.3 L387.02 612.1 L387.62 615.1 L388.21 616.7 L388.81 619.5 L389.40 618.0 L390.00 620.0 L390.56 622.2 L391.11 622.1 L391.67 622.0 L392.22 625.7 L392.78 624.9 L393.33 626.7 L393.89 624.3 L394.44 627.1 L395.00 623.7 L395.56 621.4 L396.11 620.7 L396.67 620.0 L397.29 615.9 L397.92 608.5 L398.54 605.2 L399.17 603.3 L399.72 606.0 L400.28 604.0 L400.83 606.6 L401.39 606.7 L401.94 605.7 L402.50 610.0 L403.06 609.1 L403.61 610.7 L404.17 609.8 L404.72 609.9 L405.28 609.0 L405.83 610.0 L406.46 611.6 L407.08 619.0 L407.71 625.8 L408.33 628.3 L408.89 628.4 L409.44 628.9 L410.00 625.9 L410.56 626.9 L411.11 624.5 L411.67 623.3 L412.22 623.6 L412.78 626.6 L413.33 628.8 L413.89 637.9 L414.44 637.9 L415.00 640.0 L415.62 633.9 L416.25 634.2 L416.88 626.1 L417.50 623.3 L418.10 623.7 L418.69 621.4 L419.29 618.7 L419.88 618.3 L420.48 615.2 L421.07 616.7 L421.67 615.0 L422.29 620.1 L422.92 623.8 L423.54 624.2 L424.17 628.3 L424.72 626.6 L425.28 626.2 L425.83 627.8 L426.39 629.4 L426.94 626.1 L427.50 625.0 L428.06 624.6 L428.61 628.7 L429.17 629.3 L429.72 630.3 L430.28 632.7 L430.83 636.7 L431.43 639.8 L432.03 645.0 L432.63 647.4 L433.23 651.3 L433.83 655.0 L434.40 654.5 L434.97 653.0 L435.53 652.4 L436.10 648.9 L436.67 646.7 L437.29 644.4 L437.92 642.0 L438.54 643.7 L439.17 642.5 L439.79 644.6 L440.42 646.8 L441.04 646.0 L441.67 648.3 L442.27 650.8 L442.87 650.7 L443.47 652.8 L444.07 652.3 L444.67 653.3 L445.33 649.4 L446.00 643.7 L446.67 643.3 L447.29 639.4 L447.92 638.8 L448.54 631.9 L449.17 630.0 L449.79 632.1 L450.42 633.1 L451.04 635.5 L451.67 636.7 L452.29 637.1 L452.92 638.3 L453.54 641.8 L454.17 645.0 L454.72 647.9 L455.28 650.0 L455.83 653.3 L456.46 650.6 L457.08 646.9 L457.71 647.5 L458.33 646.7 L458.96 646.7 L459.58 649.3 L460.21 652.4 L460.83 653.3 L461.38 656.0 L461.92 657.7 L462.46 663.7 L463.00 663.3 L463.67 663.1 L464.33 658.2 L465.00 656.7 L465.62 657.0 L466.25 658.0 L466.88 657.3 L467.50 658.3 L468.06 655.0 L468.61 653.6 L469.17 653.5 L469.72 646.7 L470.28 644.2 L470.83 643.3 L471.46 642.8 L472.08 639.6 L472.71 639.1 L473.33 636.7 L473.96 635.1 L474.58 634.2 L475.21 628.5 L475.83 626.7 L476.39 628.8 L476.94 628.9 L477.50 631.7 L478.12 627.8 L478.75 624.6 L479.38 626.6 L480.00 623.3 L480.62 624.0 L481.25 623.1 L481.88 619.1 L482.50 618.3 L483.06 611.6 L483.61 612.5 L484.17 610.8 L484.79 614.4 L485.42 611.0 L486.04 615.0 L486.67 616.7 L487.29 618.0 L487.92 623.8 L488.54 623.8 L489.17 626.7 L489.72 624.6 L490.28 624.7 L490.83 624.6 L491.39 621.5 L491.94 618.4 L492.50 619.2 L493.12 623.3 L493.75 628.9 L494.38 628.1 L495.00 630.0 L495.62 631.3 L496.25 635.3 L496.88 638.8 L497.50 638.3 L498.12 639.5 L498.75 639.1 L499.38 640.9 L500.00 643.3 L500.67 649.0 L501.33 653.3 L502.00 647.1 L502.67 644.3 L503.33 636.7 L503.89 640.2 L504.44 641.9 L505.00 643.3 L505.61 641.7 L506.22 640.1 L506.83 637.2 L507.44 636.7 L508.06 633.1 L508.67 630.8 L509.21 632.5 L509.75 635.0 L510.29 634.4 L510.83 636.7 L511.39 638.0 L511.94 644.9 L512.50 646.7 L513.12 644.0 L513.75 641.5 L514.38 636.3 L515.00 634.2 L515.62 634.9 L516.25 633.9 L516.88 637.8 L517.50 640.0 L518.12 642.6 L518.75 640.8 L519.38 641.5 L520.00 643.3 L520.62 643.5 L521.25 642.3 L521.88 643.4 L522.50 643.3 L523.06 646.0 L523.61 643.7 L524.17 644.5 L524.72 642.7 L525.28 646.3 L525.83 648.3 L526.39 650.3 L526.94 650.5 L527.50 654.0 L528.06 655.2 L528.61 657.3 L529.17 659.2 L529.79 660.2 L530.42 660.0 L531.04 659.6 L531.67 656.7 L532.29 655.8 L532.92 659.0 L533.54 659.7 L534.17 660.0 L534.72 659.5 L535.28 660.2 L535.83 659.7 L536.39 658.8 L536.94 658.5 L537.50 657.5 L538.12 656.4 L538.75 658.0 L539.38 655.6 L540.00 655.0 L540.62 654.7 L541.25 652.4 L541.88 652.1 L542.50 649.2 L543.12 650.3 L543.75 651.5 L544.38 653.5 L545.00 655.0 L545.62 658.6 L546.25 657.9 L546.88 656.3 L547.50 658.3 L548.12 657.5 L548.75 660.2 L549.38 661.3 L550.00 660.8 L550.62 661.2 L551.25 661.2 L551.88 660.8 L552.50 660.0 L553.06 664.6 L553.61 667.1 L554.17 672.5 L554.79 673.1 L555.42 669.5 L556.04 670.1 L556.67 670.0 L557.29 669.1 L557.92 667.2 L558.54 667.9 L559.17 665.0 L559.72 664.6 L560.28 664.5 L560.83 665.0 L561.46 663.3 L562.08 659.2 L562.71 658.5 L563.33 655.8 L564.00 657.1 L564.67 657.1 L565.33 656.7 L565.93 658.6 L566.53 662.7 L567.13 666.1 L567.73 665.7 L568.33 671.7 L568.89 672.0 L569.44 669.1 L570.00 666.4 L570.56 668.6 L571.11 666.5 L571.67 665.0 L572.29 667.0 L572.92 665.9 L573.54 667.8 L574.17 670.0 L574.79 667.4 L575.42 667.2 L576.04 665.5 L576.67 665.8 L577.29 668.1 L577.92 670.0 L578.54 668.4 L579.17 671.7 L579.77 672.6 L580.37 674.2 L580.97 675.8 L581.57 675.6 L582.17 677.5 L582.73 677.2 L583.30 678.0 L583.87 677.3 L584.43 672.9 L585.00 671.7 L585.62 669.7 L586.25 668.2 L586.88 667.6 L587.50 663.3 L588.10 662.3 L588.69 663.7 L589.29 661.4 L589.88 660.5 L590.48 662.1 L591.07 661.1 L591.67 660.8 L592.22 661.1 L592.78 661.5 L593.33 662.5 L593.89 662.5 L594.44 664.8 L595.00 665.0 L595.56 665.2 L596.11 668.0 L596.67 666.4 L597.22 669.2 L597.78 669.8 L598.33 670.0 L598.89 669.9 L599.44 667.8 L600.00 669.2 L600.56 667.8 L601.11 667.9 L601.67 668.3 L602.29 669.0 L602.92 671.3 L603.54 673.2 L604.17 674.2 L604.79 674.2 L605.42 674.4 L606.04 671.6 L606.67 671.7 L607.29 675.7 L607.92 680.0 L608.54 682.4 L609.17 685.0 L609.83 685.2 L610.50 686.8 L611.17 690.0 L611.71 688.2 L612.25 687.8 L612.79 688.1 L613.33 686.7 L613.96 683.9 L614.58 685.0 L615.21 680.9 L615.83 678.3 L616.39 678.3 L616.94 676.4 L617.50 676.7 L618.06 674.9 L618.61 673.3 L619.17 673.3 L619.72 674.8 L620.28 676.0 L620.83 676.9 L621.39 677.7 L621.94 679.3 L622.50 680.8 L623.06 682.0 L623.61 681.0 L624.17 681.6 L624.72 680.0 L625.28 680.4 L625.83 681.7 L626.39 680.2 L626.94 681.5 L627.50 678.5 L628.06 680.2 L628.61 680.3 L629.17 679.2 L629.79 679.2 L630.42 680.2 L631.04 680.8 L631.67 680.0 L632.22 678.0 L632.78 676.9 L633.33 674.6 L633.89 674.8 L634.44 674.4 L635.00 672.5 L635.62 675.2 L636.25 677.6 L636.88 679.5 L637.50 680.0 L638.06 679.1 L638.61 678.0 L639.17 675.0 L639.72 675.2 L640.28 677.2 L640.83 678.5 L641.39 680.4 L641.94 679.0 L642.50 681.7 L643.06 684.7 L643.61 684.8 L644.17 684.2 L644.72 682.7 L645.28 681.5 L645.83 680.8 L646.46 681.4 L647.08 683.2 L647.71 683.2 L648.33 685.8 L648.89 684.5 L649.44 681.2 L650.00 680.4 L650.56 677.6 L651.11 678.0 L651.67 676.7 L652.22 676.3 L652.78 676.7 L653.33 677.1 L653.89 677.2 L654.44 676.0 L655.00 676.7 L655.62 676.6 L656.25 677.2 L656.88 682.5 L657.50 683.3 L658.06 683.9 L658.61 682.9 L659.17 680.8 L659.72 682.5 L660.28 683.2 L660.83 687.1 L661.39 684.1 L661.94 688.5 L662.50 690.0 L663.06 689.2 L663.61 688.9 L664.17 685.3 L664.72 686.1 L665.28 684.3 L665.83 681.7 L666.46 684.1 L667.08 681.7 L667.71 681.9 L668.33 684.2 L668.96 682.9 L669.58 683.1 L670.21 682.3 L670.83 681.7 L671.46 683.7 L672.08 684.0 L672.71 683.3 L673.33 683.3 L673.96 681.5 L674.58 679.6 L675.21 676.8 L675.83 675.0 L676.40 673.9 L676.97 672.6 L677.53 673.8 L678.10 673.2 L678.67 672.5 L679.21 676.1 L679.75 677.8 L680.29 681.5 L680.83 681.7 L681.46 685.4 L682.08 688.9 L682.71 694.3 L683.33 698.3 L683.96 696.7 L684.58 697.3 L685.21 694.5 L685.83 691.7 L686.40 693.0 L686.97 693.4 L687.53 694.2 L688.10 695.4 L688.67 696.7 L689.21 694.9 L689.75 693.1 L690.29 689.4 L690.83 686.7 L691.46 684.5 L692.08 682.2 L692.71 680.1 L693.33 678.3 L693.89 676.9 L694.44 673.7 L695.00 676.3 L695.56 675.0 L696.11 673.6 L696.67 671.7 L697.22 670.7 L697.78 671.2 L698.33 668.3 L698.89 665.8 L699.44 665.8 L700.00 665.0 L700.56 665.3 L701.11 665.2 L701.67 662.8 L702.22 664.6 L702.78 664.8 L703.33 663.3 L703.96 664.7 L704.58 665.7 L705.21 665.1 L705.83 665.0 L706.46 667.1 L707.08 668.3 L707.71 670.8 L708.33 673.3 L708.93 673.2 L709.53 671.8 L710.13 672.7 L710.73 672.4 L711.33 671.7 L712.00 670.5 L712.67 663.6 L713.33 660.0 L713.96 656.0 L714.58 651.5 L715.21 651.0 L715.83 645.0 L716.50 642.0 L717.17 636.7 L717.83 635.8 L718.38 638.0 L718.92 642.9 L719.46 641.3 L720.00 645.0 L720.57 645.2 L721.13 648.6 L721.70 648.3 L722.27 651.0 L722.83 653.3 L723.38 651.5 L723.92 649.3 L724.46 645.7 L725.00 645.0 L725.62 643.6 L726.25 643.2 L726.88 641.0 L727.50 641.7 L728.12 642.4 L728.75 641.5 L729.38 642.9 L730.00 645.0 L730.62 644.2 L731.25 644.1 L731.88 641.2 L732.50 640.0 L733.06 639.5 L733.61 640.9 L734.17 641.0 L734.72 643.5 L735.28 643.2 L735.83 645.0 L736.46 645.6 L737.08 642.7 L737.71 641.3 L738.33 641.7 L738.96 641.5 L739.58 643.0 L740.21 641.7 L740.83 643.3 L741.46 642.2 L742.08 641.0 L742.71 642.9 L743.33 641.7 L743.89 635.2 L744.44 633.4 L745.00 631.7 L745.62 633.1 L746.25 636.0 L746.88 637.3 L747.50 640.0 L748.04 643.9 L748.58 645.1 L749.12 646.4 L749.67 650.8 L750.23 650.1 L750.80 650.6 L751.37 646.5 L751.93 645.3 L752.50 643.3 L753.06 642.0 L753.61 643.5 L754.17 641.0 L754.72 641.3 L755.28 640.7 L755.83 640.0 L756.46 641.4 L757.08 641.6 L757.71 642.1 L758.33 643.3 L758.96 642.9 L759.58 643.6 L760.21 636.6 L760.83 636.7 L761.38 635.0 L761.92 634.6 L762.46 634.8 L763.00 635.0 L763.58 637.3 L764.17 639.7 L764.75 646.0 L765.33 646.7 L765.88 643.7 L766.42 641.5 L766.96 641.1 L767.50 639.2 L768.04 641.2 L768.58 643.9 L769.12 648.6 L769.67 648.3 L770.33 646.8 L771.00 645.2 L771.67 643.3 L772.22 648.0 L772.78 651.2 L773.33 656.7 L774.00 660.4 L774.67 666.6 L775.33 670.0 L776.00 679.0 L776.67 690.0 L777.33 700.8 L778.00 714.2 L778.67 708.5 L779.33 704.2 L780.00 698.3 L780.62 695.1 L781.25 690.9 L781.88 682.7 L782.50 678.3 L783.04 679.7 L783.58 684.5 L784.12 687.7 L784.67 690.0 L785.33 688.3 L786.00 688.6 L786.67 685.0 L787.22 684.0 L787.78 683.1 L788.33 679.0 L788.89 680.7 L789.44 680.1 L790.00 676.7 L790.67 670.4 L791.33 666.6 L792.00 659.2 L792.54 663.2 L793.08 667.9 L793.62 671.0 L794.17 675.0 L794.79 672.8 L795.42 672.2 L796.04 674.1 L796.67 673.3 L797.33 674.3 L798.00 674.0 L798.67 675.0 L799.21 670.9 L799.75 664.4 L800.29 661.4 L800.83 656.7 L801.46 656.6 L802.08 652.6 L802.71 649.6 L803.33 646.7 L803.89 641.2 L804.44 634.0 L805.00 625.0 L805.56 630.1 L806.11 636.4 L806.67 640.0 L807.29 640.7 L807.92 640.0 L808.54 641.4 L809.17 641.7 L809.72 639.0 L810.28 637.6 L810.83 638.3 L811.39 630.5 L811.94 630.0 L812.50 623.3 L813.06 626.4 L813.61 627.0 L814.17 628.3 L814.72 626.0 L815.28 615.8 L815.83 615.0 L816.38 622.3 L816.92 622.4 L817.46 625.2 L818.00 630.0 L818.56 625.8 L819.11 616.3 L819.67 610.0 L820.33 609.0 L821.00 604.0 L821.67 600.0 L822.22 592.5 L822.78 586.2 L823.33 583.3 L824.00 580.9 L824.67 583.9 L825.33 581.7 L825.89 579.4 L826.44 570.2 L827.00 564.2 L827.54 567.7 L828.08 574.0 L828.62 576.1 L829.17 578.3 L829.71 575.4 L830.25 574.5 L830.79 566.3 L831.33 566.7 L831.92 559.7 L832.50 546.7 L833.08 541.9 L833.67 533.3 L834.17 503.3 L834.75 485.0 L835.33 470.0 L836.00 469.3 L836.67 461.7 L837.50 453.3 L838.33 434.2 L839.17 483.3 L839.72 490.9 L840.28 497.9 L840.83 503.3 L841.42 505.5 L842.00 513.3 L842.67 508.1 L843.33 500.0 L844.00 497.4 L844.67 487.0 L845.33 482.5 L845.89 491.3 L846.44 501.5 L847.00 505.0 L847.56 502.8 L848.11 494.5 L848.67 486.7 L849.22 487.5 L849.78 486.0 L850.33 485.0 L850.89 488.8 L851.44 497.2 L852.00 498.3 L852.56 504.6 L853.11 513.7 L853.67 518.3 L854.22 513.4 L854.78 509.8 L855.33 500.0 L855.89 499.0 L856.44 500.6 L857.00 505.0 L857.56 498.4 L858.11 495.8 L858.67 491.7 L859.21 486.4 L859.75 482.1 L860.29 476.1 L860.83 469.2 L861.39 475.0 L861.94 472.3 L862.50 480.0 L863.17 476.7 L863.83 478.0 L864.50 471.7 L865.04 476.9 L865.58 484.1 L866.12 487.7 L866.67 486.7 L867.29 484.7 L867.92 485.6 L868.54 485.5 L869.17 483.3 L869.79 487.3 L870.42 488.3 L871.04 491.0 L871.67 493.3 L872.22 492.5 L872.78 490.0 L873.33 486.7 L873.89 499.1 L874.44 503.0 L875.00 510.0 L875.56 505.8 L876.11 500.3 L876.67 493.3 L877.22 490.4 L877.78 489.4 L878.33 484.2 L879.00 492.3 L879.67 495.0 L880.33 498.3 L880.88 502.7 L881.42 513.2 L881.96 521.1 L882.50 525.8 L883.06 517.2 L883.61 506.4 L884.17 496.7 L884.79 493.7 L885.42 490.9 L886.04 491.2 L886.67 491.7 L887.33 486.6 L888.00 484.5 L888.67 480.8 L889.21 488.5 L889.75 485.3 L890.29 489.0 L890.83 493.3 L891.38 500.2 L891.92 501.7 L892.46 506.1 L893.00 515.0 L893.56 509.9 L894.11 504.5 L894.67 496.7 L895.33 490.1 L896.00 493.5 L896.67 488.3 L897.22 493.3 L897.78 490.4 L898.33 491.7 L898.88 486.5 L899.42 483.7 L899.96 480.0 L900.50 475.0 L901.17 479.2 L901.83 481.4 L902.50 491.7 L903.06 496.8 L903.61 502.1 L904.17 510.0 L904.83 505.9 L905.50 498.8 L906.17 500.0 L906.71 499.4 L907.25 502.3 L907.79 507.8 L908.33 506.7 L909.00 514.8 L909.67 515.0 L910.33 526.7 L910.89 529.3 L911.44 535.0 L912.00 537.5 L912.54 534.4 L913.08 534.0 L913.62 529.6 L914.17 526.7 L914.79 521.8 L915.42 517.9 L916.04 517.0 L916.67 513.3 L917.29 510.3 L917.92 505.0 L918.54 502.3 L919.17 500.0 L919.72 499.6 L920.28 490.7 L920.83 486.7 L921.46 484.0 L922.08 483.9 L922.71 479.6 L923.33 475.8 L923.89 479.4 L924.44 480.4 L925.00 486.7 L925.67 485.4 L926.33 482.1 L927.00 478.3 L927.56 485.7 L928.11 488.7 L928.67 498.3 L929.33 509.3 L930.00 514.2 L930.56 506.6 L931.11 503.9 L931.67 493.3 L932.33 504.9 L933.00 503.6 L933.67 514.2 L934.21 512.5 L934.75 504.4 L935.29 502.0 L935.83 495.0 L936.39 496.3 L936.94 491.7 L937.50 490.0 L938.06 489.0 L938.61 496.7 L939.17 495.0 L939.72 490.6 L940.28 489.9 L940.83 490.8 L941.39 497.4 L941.94 504.8 L942.50 510.0 L943.06 509.3 L943.61 499.0 L944.17 498.3 L944.72 495.4 L945.28 495.3 L945.83 490.8 L946.38 496.3 L946.92 496.4 L947.46 501.3 L948.00 500.0 L948.56 510.6 L949.11 518.3 L949.67 523.3 L950.22 526.1 L950.78 533.6 L951.33 541.7 L952.00 543.3 L952.67 538.8 L953.33 540.0 L954.00 541.4 L954.67 550.3 L955.33 553.3 L955.88 548.9 L956.42 546.0 L956.96 540.5 L957.50 535.0 L958.06 538.8 L958.61 541.4 L959.17 546.7 L959.72 544.4 L960.28 545.2 L960.83 540.0 L961.39 543.2 L961.94 547.2 L962.50 553.3 L963.04 552.3 L963.58 557.1 L964.12 560.5 L964.67 561.7 L965.33 557.3 L966.00 557.9 L966.67 553.3 L967.29 550.8 L967.92 548.3 L968.54 543.4 L969.17 540.0 L969.72 539.8 L970.28 534.3 L970.83 535.0 L971.39 528.1 L971.94 525.7 L972.50 520.0 L973.04 516.5 L973.58 513.3 L974.12 509.6 L974.67 506.7 L975.33 499.1 L976.00 498.9 L976.67 495.0 L977.22 494.3 L977.78 499.6 L978.33 498.3 L978.88 497.0 L979.42 491.2 L979.96 486.5 L980.50 483.3 L981.17 483.1 L981.83 489.6 L982.50 495.0 L983.06 493.3 L983.61 486.6 L984.17 478.3 L984.79 471.5 L985.42 465.9 L986.04 464.0 L986.67 458.3 L987.33 457.0 L988.00 461.2 L988.67 460.0 L989.29 456.4 L989.92 450.4 L990.54 449.3 L991.17 443.3 L991.71 448.5 L992.25 445.3 L992.79 449.7 L993.33 451.7 L993.93 457.2 L994.53 462.6 L995.13 466.3 L995.73 469.3 L996.33 475.0 L997.00 476.7 L997.67 470.6 L998.33 470.0 L998.96 469.7 L999.58 461.9 L1000.21 454.9 L1000.83 449.2 L1001.33 448.3 L1002.00 446.9 L1002.67 447.2 L1003.33 450.0 L1004.00 454.0 L1004.67 459.8 L1005.33 465.0 L1005.89 474.1 L1006.44 470.1 L1007.00 476.7 L1007.56 480.1 L1008.11 484.6 L1008.67 490.0 L1009.21 486.9 L1009.75 487.4 L1010.29 488.0 L1010.83 486.7 L1011.42 483.3 L1012.00 480.8 L1012.54 482.9 L1013.08 484.6 L1013.62 487.9 L1014.17 490.8 L1014.71 488.3 L1015.25 484.0 L1015.79 476.2 L1016.33 476.7 L1016.92 468.6 L1017.50 469.6 L1018.08 461.9 L1018.67 462.5 L1019.21 469.3 L1019.75 467.6 L1020.29 470.1 L1020.83 473.3 L1021.38 480.0 L1021.92 482.2 L1022.46 488.4 L1023.00 493.3 L1023.67 493.1 L1024.33 494.1 L1025.00 492.5 L1025.56 484.6 L1026.11 478.8 L1026.67 463.3 L1027.33 462.5 L1028.00 466.6 L1028.67 465.0 L1029.33 460.0 L1030.00 458.3 L1030.67 453.6 L1031.33 453.5 L1032.00 448.3 L1032.67 429.1 L1033.33 420.0 L1034.17 406.7 L1034.75 426.8 L1035.33 436.7 L1035.88 441.4 L1036.42 444.8 L1036.96 445.8 L1037.50 454.2 L1038.06 441.9 L1038.61 442.7 L1039.17 436.7 L1040.00 403.3 L1040.83 330.8 L1041.39 343.2 L1041.94 349.5 L1042.50 355.0 L1043.08 343.8 L1043.67 335.0 L1044.33 348.3 L1045.00 356.7 L1045.83 310.0 L1046.39 311.2 L1046.94 301.9 L1047.50 297.5 L1048.08 304.3 L1048.67 320.0 L1049.33 335.6 L1050.00 340.0 L1050.67 350.1 L1051.33 366.3 L1052.00 381.7 L1052.67 358.6 L1053.33 340.0 L1053.89 336.3 L1054.44 328.5 L1055.00 330.0 L1055.67 328.3 L1056.33 320.5 L1057.00 310.8 L1057.67 330.5 L1058.33 341.7 L1058.89 333.2 L1059.44 333.7 L1060.00 320.0 L1060.67 314.4 L1061.33 299.2 L1061.92 309.3 L1062.50 316.7 L1063.06 311.4 L1063.61 304.7 L1064.17 296.7 L1064.75 278.0 L1065.33 260.0 L1065.89 262.3 L1066.44 265.6 L1067.00 264.2 L1067.67 266.9 L1068.33 286.7 L1068.89 295.2 L1069.44 290.4 L1070.00 298.3 L1070.56 310.0 L1071.11 303.9 L1071.67 308.3 L1072.33 322.4 L1073.00 333.3 L1073.83 346.7 L1074.00 340.0 L1074.80 403.0 L1075.40 394.4 L1076.00 380.0 L1076.50 374.5 L1077.00 366.0 L1077.50 373.6 L1078.00 377.0 L1078.65 373.3 L1079.30 362.5 L1079.90 374.5 L1080.50 382.0 L1081.00 390.2 L1081.50 404.0 L1082.00 391.0 L1082.50 384.0 L1083.20 367.0 L1083.85 371.9 L1084.50 383.0 L1085.25 383.4 L1086.00 384.0 L1086.50 392.9 L1087.00 404.0 L1087.75 418.4 L1088.50 424.0 L1089.00 415.9 L1089.50 409.0 L1090.00 407.5 L1090.50 400.0 L1091.25 417.1 L1092.00 425.0 L1092.75 417.8 L1093.50 408.0 L1094.00 398.7 L1094.50 397.0 L1095.15 401.5 L1095.80 414.0 L1096.50 397.0 L1097.00 405.8 L1097.50 419.0 L1098.25 401.1 L1099.00 382.0 L1099.75 381.7 L1100.50 378.0 L1101.25 383.6 L1102.00 392.0 L1102.75 369.9 L1103.50 362.0 L1104.15 369.9 L1104.80 378.0 L1105.40 381.5 L1106.00 380.0 L1106.50 389.8 L1107.00 402.0 L1107.65 407.6 L1108.30 421.5 L1108.90 410.3 L1109.50 409.0 L1110.17 409.1 L1110.83 416.7 L1111.50 415.0 L1112.25 406.3 L1113.00 398.0 L1113.75 390.5 L1114.50 382.0 L1115.25 366.2 L1116.00 355.0 L1116.60 368.2 L1117.20 382.0 L1117.85 394.4 L1118.50 410.0 L1119.10 421.4 L1119.70 435.0 L1120.35 428.2 L1121.00 414.0 L1121.75 415.1 L1122.50 402.0 L1123.15 404.0 L1123.80 410.0 L1124.30 398.6 L1124.80 388.0 L1125.40 392.8 L1126.00 403.0 L1126.50 406.7 L1127.00 415.0 L1127.75 406.6 L1128.50 404.0 L1129.25 392.9 L1130.00 380.0 L1130.50 378.3 L1131.00 365.0 L1131.60 370.6 L1132.20 377.0 L1132.70 370.2 L1133.20 357.0 L1133.85 360.1 L1134.50 366.0 L1135.25 359.6 L1136.00 350.0 L1136.67 354.2 L1137.33 368.2 L1138.00 369.0 L1138.50 360.0 L1139.00 343.0 L1139.50 316.7 L1140.00 328.1 L1140.50 343.3 L1141.08 346.9 L1141.67 353.3 L1142.22 349.6 L1142.78 348.1 L1143.33 343.3 L1143.89 345.3 L1144.44 339.9 L1145.00 335.0 L1145.58 332.4 L1146.17 330.0 L1146.83 329.5 L1147.50 336.7 L1148.17 350.6 L1148.83 353.3 L1149.50 352.8 L1150.17 354.8 L1150.83 359.2 L1151.39 354.6 L1151.94 358.3 L1152.50 346.7 L1153.08 328.7 L1153.67 310.0 L1154.17 303.8 L1154.67 283.3 L1155.25 275.7 L1155.83 275.8 L1156.50 287.4 L1157.17 316.7 L1157.92 298.4 L1158.67 281.7 L1159.33 291.5 L1160.00 295.0 L1160.58 306.6 L1161.17 312.5 L1161.83 307.9 L1162.50 280.0 L1163.00 265.8 L1163.50 252.0 L1164.17 250.3 L1165.00 256.0 L1165.83 262.0 L1166.50 273.3 L1167.17 277.0 L1167.75 273.1 L1168.33 264.2" fill="none" stroke="#4fb877" stroke-width="2.4" stroke-linejoin="round"/>
<text x="1096.7" y="850" font-size="13" fill="#333" textLength="200.5" lengthAdjust="spacingAndGlyphs">Source: UAnalyze Global Database</text>
</svg></body></html>
